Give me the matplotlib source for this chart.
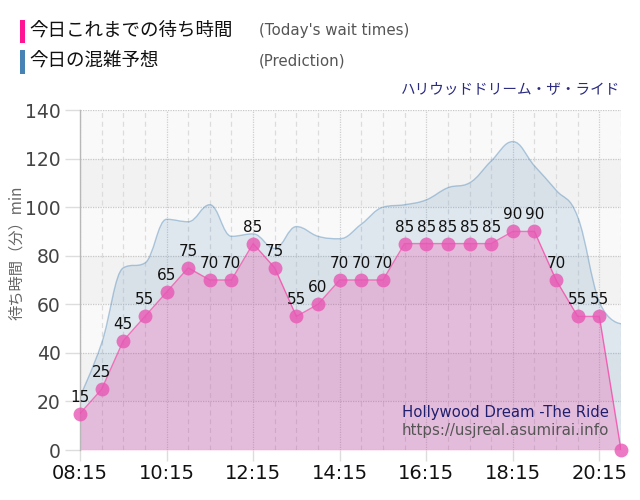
import matplotlib
matplotlib.use("Agg")
import matplotlib.pyplot as plt
from matplotlib.path import Path
from matplotlib.patches import PathPatch, Rectangle
import numpy as np

JP = ['Noto Sans CJK JP', 'DejaVu Sans']

times = ["08:15", "08:45", "09:15", "09:45", "10:15", "10:45", "11:15", "11:45",
         "12:15", "12:45", "13:15", "13:45", "14:15", "14:45", "15:15", "15:45",
         "16:15", "16:45", "17:15", "17:45", "18:15", "18:45", "19:15", "19:45",
         "20:15", "20:45"]
wait = [15, 25, 45, 55, 65, 75, 70, 70, 85, 75, 55, 60, 70, 70, 70, 85,
        85, 85, 85, 85, 90, 90, 70, 55, 55, 0]
pred = [22, 44, 75, 77, 95, 94, 101, 88, 89, 83, 92, 88, 87, 93, 100, 101,
        103, 108, 110, 119, 127, 117, 107, 96, 61, 52]
yticks = [0, 20, 40, 60, 80, 100, 120, 140]

legend_jp = ["今日これまでの待ち時間", "今日の混雑予想"]
legend_en = ["(Today's wait times)", "(Prediction)"]
title = "ハリウッドドリーム・ザ・ライド"
ylabel = "待ち時間（分）min"
wm1 = "Hollywood Dream -The Ride"
wm2 = "https://usjreal.asumirai.info"


def spline_path(xs, ys, close=False):
    n = len(xs)
    lc = [(xs[i], ys[i]) for i in range(n)]
    rc = [(xs[i], ys[i]) for i in range(n)]
    s, d = 1.5, 2.5
    for i in range(1, n - 1):
        x, y = xs[i], ys[i]
        px, py = xs[i - 1], ys[i - 1]
        nx, ny = xs[i + 1], ys[i + 1]
        lcx = (s * x + px) / d
        lcy = (s * y + py) / d
        rcx = (s * x + nx) / d
        rcy = (s * y + ny) / d
        if rcx != lcx:
            corr = ((rcy - lcy) * (rcx - x)) / (rcx - lcx) + y - rcy
            lcy += corr
            rcy += corr
        if lcy > py and lcy > y:
            lcy = max(py, y); rcy = 2 * y - lcy
        elif lcy < py and lcy < y:
            lcy = min(py, y); rcy = 2 * y - lcy
        if rcy > ny and rcy > y:
            rcy = max(ny, y); lcy = 2 * y - rcy
        elif rcy < ny and rcy < y:
            rcy = min(ny, y); lcy = 2 * y - rcy
        lc[i] = (lcx, lcy)
        rc[i] = (rcx, rcy)
    verts = [(xs[0], ys[0])]
    codes = [Path.MOVETO]
    for i in range(1, n):
        verts += [rc[i - 1], lc[i], (xs[i], ys[i])]
        codes += [Path.CURVE4] * 3
    if close:
        verts += [(xs[-1], 0), (xs[0], 0), (xs[0], ys[0])]
        codes += [Path.LINETO, Path.LINETO, Path.CLOSEPOLY]
    return Path(verts, codes)


W, H = 640, 500
fig = plt.figure(figsize=(W / 100, H / 100), dpi=100)
ax = fig.add_axes([80 / W, 50 / H, 541 / W, 340 / H])

x = np.arange(len(times))
ax.set_xlim(0, len(times) - 1)
ax.set_ylim(0, 140)

# background bands
for k, lo in enumerate(yticks[:-1]):
    col = '#f9f9f9' if (len(yticks) - 2 - k) % 2 == 0 else '#f2f2f2'
    ax.axhspan(lo, lo + 20, color=col, zorder=0, lw=0)

# grid
for xi in x:
    if xi % 4 == 0:
        ax.axvline(xi, color='#cfcfcf', lw=0.9, ls=(0, (1, 1)), zorder=0.5)
    else:
        ax.axvline(xi, color='#dcdcdc', lw=0.9, ls=(0, (4, 3)), zorder=0.5)
for yv in yticks:
    ax.axhline(yv, color='#c8c8c8', lw=0.9, ls=(0, (1, 1)), zorder=0.5)

steel = (70 / 255, 130 / 255, 180 / 255)
pink = (1.0, 20 / 255, 147 / 255)

xf = [float(v) for v in x]
ax.add_patch(PathPatch(spline_path(xf, [float(v) for v in pred], close=True),
                       facecolor=steel + (0.15,), edgecolor='none', zorder=1))
ax.add_patch(PathPatch(spline_path(xf, [float(v) for v in pred]),
                       facecolor='none', edgecolor=steel + (0.4,), lw=1.0, zorder=1.1))

ax.fill_between(x, wait, 0, color=pink + (0.2,), lw=0, zorder=2)
ax.plot(x, wait, color=pink + (0.55,), lw=1.0, zorder=3)
ax.plot(x, wait, 'o', ms=10, color='#e857b4', alpha=0.8, mec='none', zorder=4, clip_on=False)

for xi, v in zip(x, wait):
    if v > 0:
        ax.annotate(str(v), (xi, v), xytext=(0, 6.5), textcoords='offset points',
                    ha='center', va='bottom', fontsize=11, color='#111111',
                    family='DejaVu Sans', zorder=5)

for sp in ['top', 'right', 'bottom']:
    ax.spines[sp].set_visible(False)
ax.spines['left'].set_color('#b8b8b8')
ax.spines['left'].set_linewidth(1.0)

ax.set_yticks(yticks)
ax.set_yticklabels([str(v) for v in yticks], fontsize=13.5, color='#444444', family='DejaVu Sans')
tick_idx = list(range(0, len(times), 4))
ax.set_xticks(tick_idx)
ax.set_xticklabels([times[i] for i in tick_idx], fontsize=14, color='#111111', family='DejaVu Sans')
ax.tick_params(axis='y', length=11, color='#dddddd', width=1, pad=3)
ax.tick_params(axis='x', length=8, color='#dddddd', width=1, pad=2)

# y label
fig.text(17 / W, 1 - 253 / H, ylabel, rotation=90, ha='center', va='center',
         fontsize=11, color='#666666', family=JP)

# legend
fig.add_artist(Rectangle((20 / W, 1 - 43 / H), 5 / W, 23 / H, transform=fig.transFigure,
                         color='#ff1493', lw=0))
fig.add_artist(Rectangle((20 / W, 1 - 74 / H), 5 / W, 24 / H, transform=fig.transFigure,
                         color='#4682b4', lw=0))
fig.text(29 / W, 1 - 31 / H, legend_jp[0], fontsize=13.3, color='#111111', va='center', family=JP)
fig.text(29 / W, 1 - 61 / H, legend_jp[1], fontsize=13.3, color='#111111', va='center', family=JP)
fig.text(259 / W, 1 - 31 / H, legend_en[0], fontsize=10.8, color='#555555', va='center', family='DejaVu Sans')
fig.text(259 / W, 1 - 61 / H, legend_en[1], fontsize=10.8, color='#555555', va='center', family='DejaVu Sans')

# title
fig.text(620 / W, 1 - 90 / H, title, fontsize=10.5, color='#2a2a80', ha='right', va='center', family=JP)

# watermark
fig.text(609 / W, 1 - 412 / H, wm1, fontsize=10.7, color='#1f1f6e', ha='right', va='center', family='DejaVu Sans')
fig.text(609 / W, 1 - 431 / H, wm2, fontsize=10.8, color='#555555', ha='right', va='center', family='DejaVu Sans')

fig.savefig('out.png', dpi=100)
